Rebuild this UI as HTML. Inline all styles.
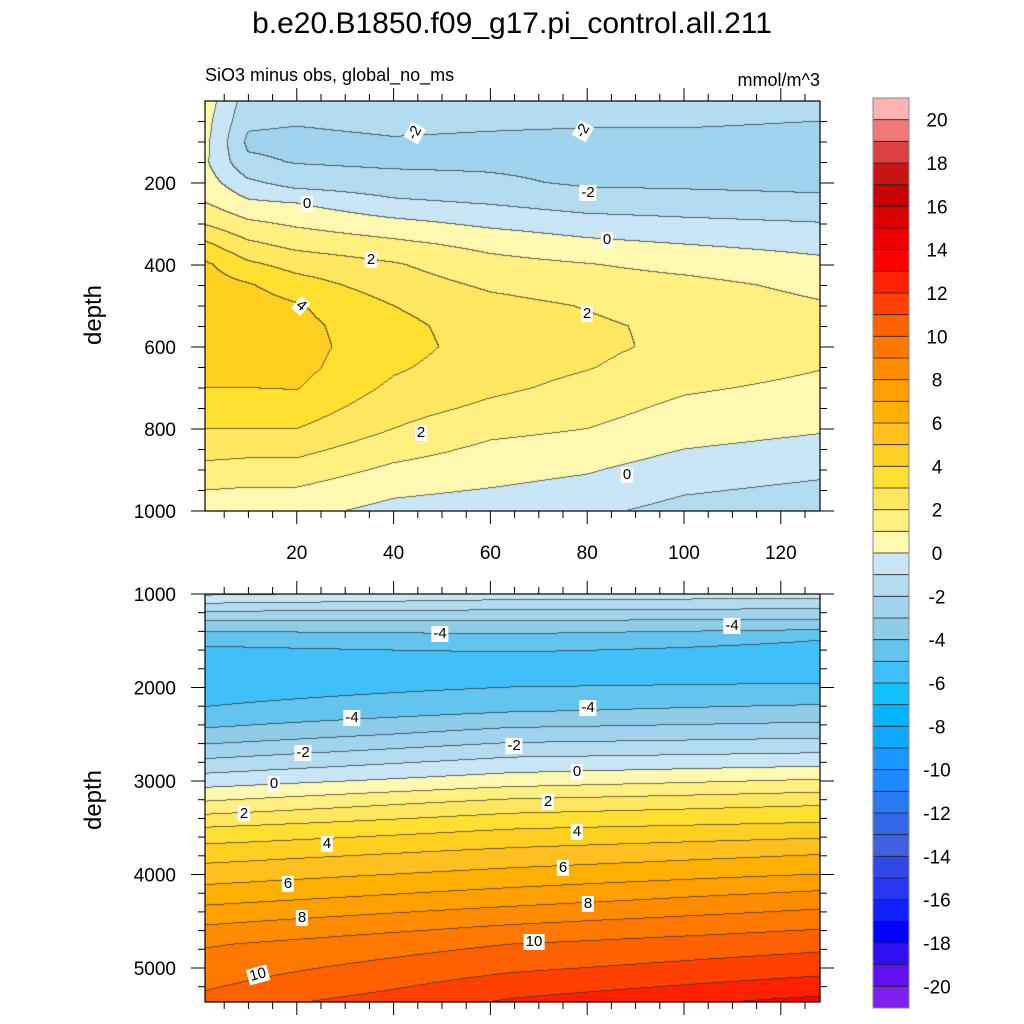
<!DOCTYPE html>
<html><head><meta charset="utf-8">
<style>
html,body{margin:0;padding:0;background:#fff;}
#root{position:relative;width:1024px;height:1024px;overflow:hidden;font-family:"Liberation Sans",sans-serif;}
canvas{position:absolute;}
svg{position:absolute;left:0;top:0;}
.cl{position:absolute;background:#fff;font-size:15px;line-height:16px;padding:0 2px;transform:translate(-50%,-50%);color:#000;}
</style></head>
<body>
<div id="root">
<canvas id="ctop" width="615" height="410" style="left:205px;top:101px"></canvas>
<canvas id="cbot" width="615" height="408" style="left:205px;top:594px"></canvas>
<svg id="ov" width="1024" height="1024">
<text x="512" y="33" font-size="30" text-anchor="middle" font-family="Liberation Sans">b.e20.B1850.f09_g17.pi_control.all.211</text>
<text x="205" y="81" font-size="18" font-family="Liberation Sans">SiO3 minus obs, global_no_ms</text>
<text x="820" y="86" font-size="18" text-anchor="end" font-family="Liberation Sans">mmol/m^3</text>
<text transform="translate(101,315) rotate(-90)" font-size="24" text-anchor="middle" font-family="Liberation Sans">depth</text>
<text transform="translate(101,800) rotate(-90)" font-size="24" text-anchor="middle" font-family="Liberation Sans">depth</text>
</svg>
<div class="cl" style="left:415px;top:133px;transform:translate(-50%,-50%) rotate(-60deg)">-2</div>
<div class="cl" style="left:583px;top:131px;transform:translate(-50%,-50%) rotate(-60deg)">-2</div>
<div class="cl" style="left:588px;top:193px">-2</div>
<div class="cl" style="left:307px;top:204px">0</div>
<div class="cl" style="left:607px;top:240px">0</div>
<div class="cl" style="left:371px;top:260px">2</div>
<div class="cl" style="left:301px;top:306px;transform:translate(-50%,-50%) rotate(40deg)">4</div>
<div class="cl" style="left:587px;top:314px">2</div>
<div class="cl" style="left:421px;top:433px">2</div>
<div class="cl" style="left:627px;top:475px">0</div>
<div class="cl" style="left:440px;top:634px">-4</div>
<div class="cl" style="left:732px;top:626px">-4</div>
<div class="cl" style="left:352px;top:718px">-4</div>
<div class="cl" style="left:588px;top:708px">-4</div>
<div class="cl" style="left:303px;top:753px">-2</div>
<div class="cl" style="left:514px;top:746px">-2</div>
<div class="cl" style="left:274px;top:784px">0</div>
<div class="cl" style="left:577px;top:772px">0</div>
<div class="cl" style="left:244px;top:814px">2</div>
<div class="cl" style="left:548px;top:802px">2</div>
<div class="cl" style="left:327px;top:844px">4</div>
<div class="cl" style="left:577px;top:832px">4</div>
<div class="cl" style="left:288px;top:884px">6</div>
<div class="cl" style="left:563px;top:868px">6</div>
<div class="cl" style="left:302px;top:918px">8</div>
<div class="cl" style="left:588px;top:904px">8</div>
<div class="cl" style="left:534px;top:942px">10</div>
<div class="cl" style="left:258px;top:975px;transform:translate(-50%,-50%) rotate(-15deg)">10</div>
</div>
<script>
// ---- data: upper panel (0-1000 m) ----
const topX = [1, 10, 20, 40, 60, 80, 100, 128];
const topDepths = [0,50,100,150,200,250,300,350,400,450,500,550,600,650,700,750,800,850,900,950,1000];
const topCol1   = [0.6,0.4,0.3,0.2,0.5,1.05,1.95,3.2,4.2,4.5,4.6,4.7,4.7,4.5,4.0,3.5,3.0,2.4,1.7,1.0,0.6];
const topCol10  = [-1.5,-1.8,-2.2,-1.8,-0.8,0.2,1.2,2.2,3.2,4.1,4.5,4.6,4.6,4.4,4.0,3.5,3.0,2.3,1.6,0.9,0.5];
const topCol20  = [-1.5,-1.9,-2.3,-2.05,-1.4,0.0,0.85,1.7,2.65,3.45,4.1,4.3,4.35,4.3,4.05,3.55,3.0,2.3,1.6,0.9,0.3];
const topCol40  = [-1.2,-1.7,-2.1,-2.2,-1.6,-0.8,0.3,1.25,2.1,2.5,3.0,3.3,3.4,3.15,2.8,2.4,2.0,1.4,0.8,0.2,-0.3];
const topCol60  = [-1.0,-1.8,-2.2,-2.2,-1.8,-1.05,-0.2,0.7,1.35,1.85,2.3,2.5,2.55,2.4,2.2,1.8,1.25,0.8,0.4,-0.05,-0.5];
const topCol80  = [-1.2,-1.85,-2.3,-2.3,-2.15,-1.45,-0.55,0.25,1.05,1.5,1.95,2.15,2.2,2.05,1.75,1.4,1.0,0.6,0.1,-0.35,-0.8];
const topCol100 = [-1.5,-1.85,-2.3,-2.4,-2.2,-1.55,-0.75,0.0,0.7,1.3,1.6,1.8,1.8,1.55,1.15,0.75,0.4,0.0,-0.5,-0.9,-1.3];
const topCol128 = [-1.7,-2.0,-2.4,-2.5,-2.3,-1.7,-0.95,-0.3,0.25,0.75,1.1,1.3,1.25,1.05,0.75,0.4,0.1,-0.3,-0.8,-1.2,-1.5];
// ---- data: lower panel (1000-5360 m) ----
const botX = [1, 64, 128];
const botDepths = [1000,1250,1500,1750,2000,2250,2500,2750,3000,3250,3500,3750,4000,4250,4500,4750,5000,5250,5360];
const botCol1   = [0.2,-2.7,-4.8,-5.6,-5.5,-4.9,-3.7,-2.1,-0.5,1.2,3.0,4.4,5.5,6.6,7.8,8.9,9.5,10.0,10.4];
const botCol64  = [-0.4,-2.7,-4.5,-5.5,-5.0,-4.1,-2.6,-1.0,0.5,2.4,3.9,5.15,6.3,7.5,8.8,10.0,10.8,11.7,12.1];
const botCol128 = [-0.5,-2.8,-5.0,-5.5,-4.9,-3.7,-2.3,-0.7,1.1,2.9,4.3,5.8,7.0,8.4,9.6,10.7,11.6,12.7,13.3];
// ---- colour scale ----
const cbLabels = [20,18,16,14,12,10,8,6,4,2,0,-2,-4,-6,-8,-10,-12,-14,-16,-18,-20];
const palette = ["#ffb4b4","#f07878","#dc4040","#c81414","#c80000","#dc0000","#ee0000","#ff0000","#ff2000","#ff4000",
"#ff6000","#ff7800","#ff8c00","#ffa000","#ffb000","#ffc020","#ffd020","#ffe030","#ffe860","#fff080","#fff8b0",
"#c8e6f5","#b4dcf0","#a0d4ee","#8ecce8","#64c4f0","#40c0f8","#10c0ff","#00b4ff","#10a8ff","#1898ff","#1e88ff","#2878f0",
"#3068e8","#4060e0","#3048e8","#2838f0","#1020ff","#0000ff","#3010f0","#6010f0","#8020f0"];

const topCols=[topCol1,topCol10,topCol20,topCol40,topCol60,topCol80,topCol100,topCol128];
const botCols=[botCol1,botCol64,botCol128];

function findIdx(arr,v){let i=0;while(i<arr.length-2&&v>arr[i+1])i++;return i;}
function interp(xs,ds,cols,x,d){
  const i=findIdx(xs,x), j=findIdx(ds,d);
  let tx=(x-xs[i])/(xs[i+1]-xs[i]); tx=Math.max(0,Math.min(1,tx));
  let td=(d-ds[j])/(ds[j+1]-ds[j]); td=Math.max(0,Math.min(1,td));
  const a=cols[i][j],b=cols[i+1][j],c=cols[i][j+1],e=cols[i+1][j+1];
  return (a*(1-tx)+b*tx)*(1-td)+(c*(1-tx)+e*tx)*td;
}
function hex(h){return [parseInt(h.substr(1,2),16),parseInt(h.substr(3,2),16),parseInt(h.substr(5,2),16)];}
const pal=palette.map(hex);
function bandIndex(v){let k=20-Math.floor(v);return Math.max(0,Math.min(41,k));}
function render(id,xs,ds,cols,xmin,xmax,dmin,dmax){
  const cv=document.getElementById(id),ctx=cv.getContext('2d');
  const w=cv.width,h=cv.height,img=ctx.createImageData(w,h),B=new Int16Array(w*h);
  for(let py=0;py<h;py++){const d=dmin+(py+0.5)/h*(dmax-dmin);
    for(let px=0;px<w;px++){const x=xmin+(px+0.5)/w*(xmax-xmin);
      B[py*w+px]=bandIndex(interp(xs,ds,cols,x,d));}}
  for(let py=0;py<h;py++)for(let px=0;px<w;px++){
    const k=py*w+px,b=B[k];let c=pal[b];
    const edge=(px<w-1&&B[k+1]!==b)||(py<h-1&&B[k+w]!==b);
    const o=k*4;
    if(edge){img.data[o]=c[0]*0.3+30;img.data[o+1]=c[1]*0.3+30;img.data[o+2]=c[2]*0.3+30;}
    else{img.data[o]=c[0];img.data[o+1]=c[1];img.data[o+2]=c[2];}
    img.data[o+3]=255;}
  ctx.putImageData(img,0,0);
}
render('ctop',topX,topDepths,topCols,1.03,128.1,0,1000);
render('cbot',botX,botDepths,botCols,1.03,128.1,1000,5364);

// ---- axes ----
const svg=document.getElementById('ov'),NS='http://www.w3.org/2000/svg';
function el(tag,attrs,parent){const e=document.createElementNS(NS,tag);for(const k in attrs)e.setAttribute(k,attrs[k]);(parent||svg).appendChild(e);return e;}
const xPx=x=>200+4.84*x;
const topY=d=>101+d*0.41;
const botY=d=>594+(d-1000)*0.0935;
const xMajor=[20,40,60,80,100,120];
const topYMajor=[200,400,600,800,1000];
const botYMajor=[1000,2000,3000,4000,5000];
function panel(y0,y1,yf,ymaj,yminStep,ymin,ymax,xlabels,name){
  const f=el('rect',{x:205,y:y0,width:615,height:y1-y0,fill:'none',stroke:'#000','stroke-width':1.2});
  
  
  for(let x=5;x<=125;x+=5){const maj=x%20===0,L=maj?13:7,X=xPx(x);
    const t1=el('line',{x1:X,x2:X,y1:y0,y2:y0-L,stroke:'#000','stroke-width':1});
    
    
    const t2=el('line',{x1:X,x2:X,y1:y1,y2:y1+L,stroke:'#000','stroke-width':1});
    
    }
  if(xlabels){xMajor.forEach(v=>{const t=el('text',{x:xPx(v),y:y1+48,'font-size':19,'text-anchor':'middle','font-family':'Liberation Sans'});t.textContent=v;
    
    });}
  for(let d=ymin;d<=ymax;d+=yminStep){if(d<=ymin&&ymin===0)continue;const maj=ymaj.includes(d),L=maj?14:7,Y=yf(d);
    if(Y<y0-0.5||Y>y1+0.5)continue;
    const a=el('line',{x1:205,x2:205-L,y1:Y,y2:Y,stroke:'#000','stroke-width':1});
    
    
    const b=el('line',{x1:820,x2:820+L,y1:Y,y2:Y,stroke:'#000','stroke-width':1});
    
    }
  ymaj.forEach(v=>{const t=el('text',{x:176,y:yf(v)+7,'font-size':19,'text-anchor':'end','font-family':'Liberation Sans'});t.textContent=v;
    
    });
}
panel(101,511,topY,topYMajor,50,0,1000,true,'upper-panel');
panel(594,1002,botY,botYMajor,200,1000,5400,false,'lower-panel');

// ---- colorbar ----
const cbTop=98,cbH=910,n=palette.length,bh=cbH/n;
palette.forEach((c,k)=>{const r=el('rect',{x:873,y:cbTop+k*bh,width:36,height:bh+0.5,fill:c});
  
  
  if(k>0){const l=el('line',{x1:873,x2:909,y1:cbTop+k*bh,y2:cbTop+k*bh,stroke:'#222','stroke-width':0.8});
    
    }});
const cbf=el('rect',{x:873,y:cbTop,width:36,height:cbH,fill:'none',stroke:'#888','stroke-width':1});


cbLabels.forEach(v=>{const k=21-v;const t=el('text',{x:937,y:cbTop+k*bh+7,'font-size':19,'text-anchor':'middle','font-family':'Liberation Sans'});t.textContent=v;
  
  });
</script>
</body></html>
